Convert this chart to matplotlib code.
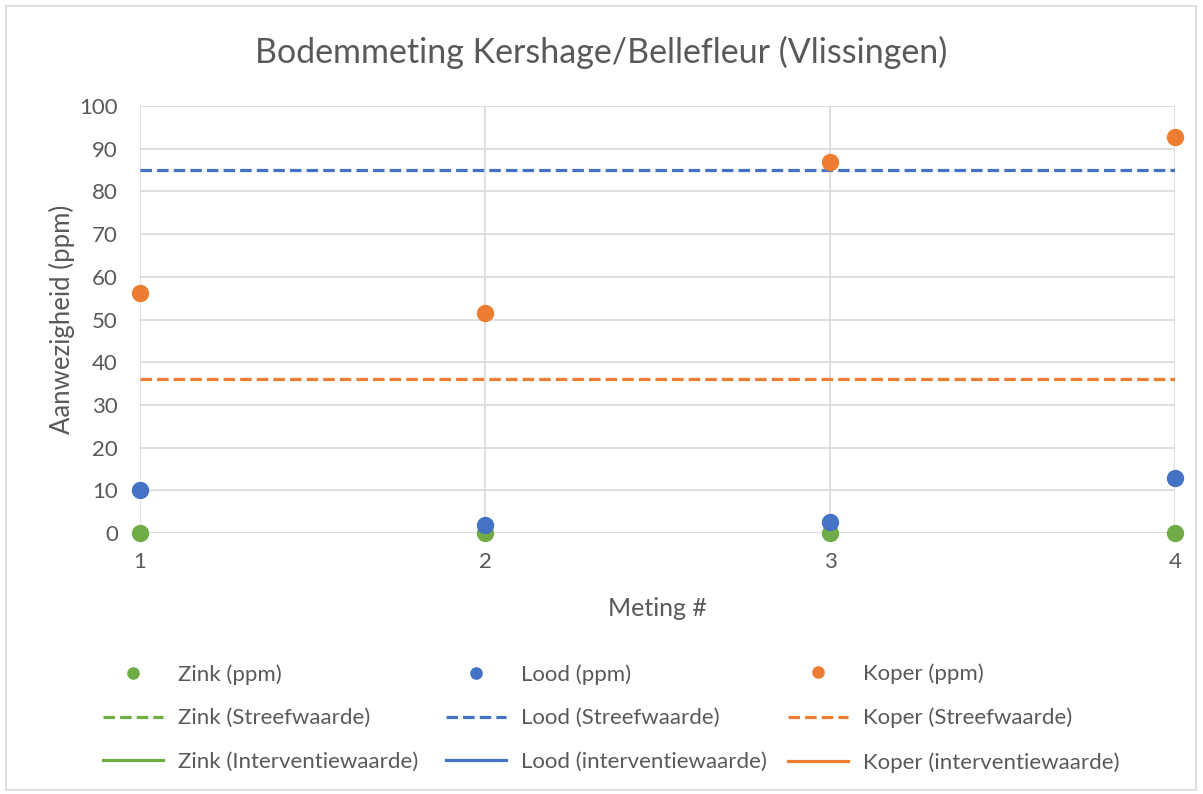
import numpy as np
from matplotlib import pyplot as plt
from matplotlib.patches import Rectangle

# Measurements
meting = [1, 2, 3, 4]
zink_ppm = [0, 0, 0, 0]
lood_ppm = [10, 1.9, 2.6, 12.9]
koper_ppm = [56.2, 51.5, 86.9, 92.7]

# Reference values (streefwaarde / interventiewaarde)
zink_streef = 140
lood_streef = 85
koper_streef = 36
zink_interventie = 720
lood_interventie = 530
koper_interventie = 190

GREEN = "#70AD47"
BLUE = "#4472C4"
ORANGE = "#ED7D31"
TEXT = "#595959"
GRID = "#D9D9D9"

plt.rcParams["font.family"] = ["Lato", "DejaVu Sans"]

W, H = 1203, 794
fig = plt.figure(figsize=(W / 100, H / 100), dpi=100)
ax = fig.add_axes([140 / W, 1 - 533 / H, (1175 - 140) / W, (533 - 106) / H])

fig.patches.append(Rectangle((6 / W, 4 / H), 1190 / W, 784 / H,
                             transform=fig.transFigure, fill=False,
                             edgecolor=GRID, linewidth=1.2))

dash = (3.6, 1.6)
x_line = [meting[0], meting[-1]]

series = [
    ("Zink", zink_ppm, zink_streef, zink_interventie, GREEN, "Interventiewaarde"),
    ("Lood", lood_ppm, lood_streef, lood_interventie, BLUE, "interventiewaarde"),
    ("Koper", koper_ppm, koper_streef, koper_interventie, ORANGE, "interventiewaarde"),
]
legend_x = [103, 446, 788]  # left edge of each legend column, px

for (name, values, streef, interv, color, interv_label), lx in zip(series, legend_x):
    pts, = ax.plot(meting, values, "o", color=color, markersize=11.5,
                   clip_on=False, zorder=4, label=f"{name} (ppm)")
    s, = ax.plot(x_line, [streef, streef], color=color, linewidth=2.3,
                 dashes=dash, zorder=3, label=f"{name} (Streefwaarde)")
    i, = ax.plot(x_line, [interv, interv], color=color, linewidth=2.3,
                 zorder=3, label=f"{name} ({interv_label})")
    # one legend per column so the columns sit at Excel's equal widths
    fig.legend(handles=[pts, s, i], loc="center left",
               bbox_to_anchor=(lx / W, 1 - 718 / H), frameon=False,
               fontsize=16, labelcolor=TEXT, handlelength=2.7,
               handletextpad=0.68, labelspacing=1.07, borderpad=0,
               borderaxespad=0, markerscale=0.7)

ax.set_xlim(1, 4)
ax.set_ylim(0, 100)
ax.set_xticks(meting)
ax.set_yticks(np.arange(0, 101, 10))
ax.grid(True, color=GRID, linewidth=1.2)
ax.set_axisbelow(True)
for spine in ax.spines.values():
    spine.set_visible(False)
ax.tick_params(length=0, labelsize=16, colors=TEXT)
ax.tick_params(axis="x", pad=14)
ax.tick_params(axis="y", pad=16)

ax.set_xlabel("Meting #", fontsize=18, color=TEXT, labelpad=18)
ax.set_ylabel("Aanwezigheid (ppm)", fontsize=18.5, color=TEXT, labelpad=3)
fig.text(0.5, 1 - 52 / H, "Bodemmeting Kershage/Bellefleur (Vlissingen)",
         ha="center", va="center", fontsize=24.5, color=TEXT)

fig.savefig("out.png", dpi=100)
